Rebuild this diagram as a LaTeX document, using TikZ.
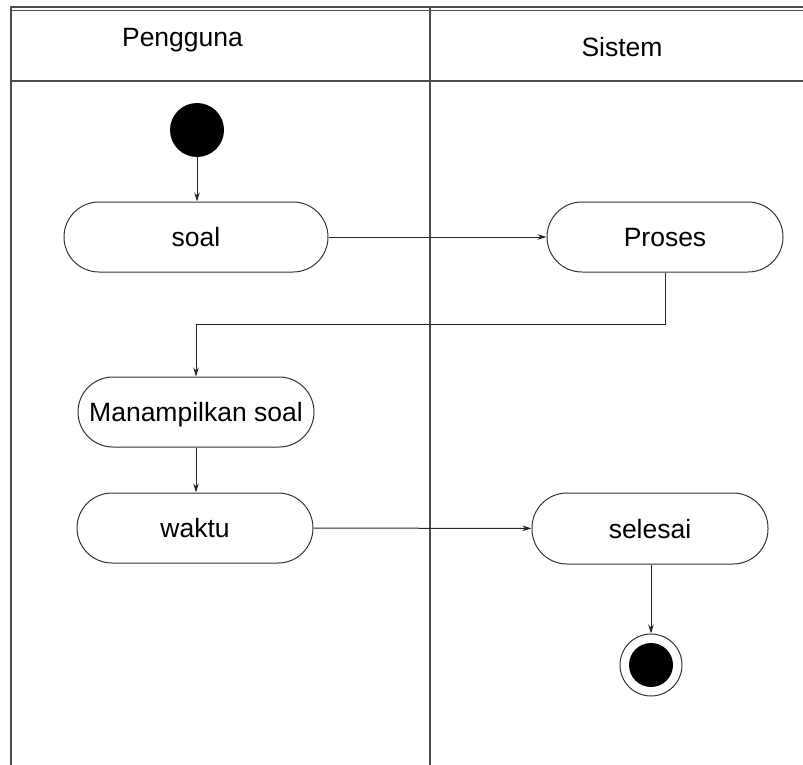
\documentclass[tikz,border=0pt]{standalone}
\usepackage{fontspec}
\setmainfont{Liberation Sans}
\usetikzlibrary{arrows.meta}
\begin{document}
\begin{tikzpicture}[x=1pt,y=-1pt,
  lane/.style={draw=black!70,line width=1.5pt},
  act/.style={draw=black!80,line width=1pt,rounded corners=35pt,minimum height=70pt,
    font=\fontsize{26.5}{30}\selectfont,text height=19pt,text depth=0pt,inner sep=0pt},
  flow/.style={draw=black!85,line width=1pt,-{Stealth[length=9pt,width=5.5pt]}},
  lbl/.style={font=\fontsize{26.5}{30}\selectfont,anchor=base,inner sep=0pt}]
\useasboundingbox (0,0) rectangle (803,765);
% swimlane frame
\draw[lane] (11,765) -- (11,7) -- (803,7);
\draw[lane] (11,10.5) -- (803,10.5);
\draw[lane] (11,81) -- (803,81);
\draw[lane] (430,7) -- (430,765);
\node[lbl] (pengguna) at (182.5,47) {Pengguna};
\node[lbl] (sistem) at (622,57) {Sistem};
% nodes
\node[circle,fill=black,minimum size=54pt,inner sep=0pt] (start) at (197,130) {};
\node[act,minimum width=264pt] (soal) at (196,237) {soal};
\node[act,minimum width=236pt] (proses) at (665,237) {Proses};
\node[act,minimum width=236pt] (tampil) at (196,412) {Manampilkan soal};
\node[act,minimum width=236pt] (waktu) at (195,528) {waktu};
\node[act,minimum width=236pt,minimum height=71pt] (selesai) at (650,528.5) {selesai};
\node[circle,draw=black!80,line width=1pt,minimum size=62pt,inner sep=0pt] (end) at (651,665) {};
\node[circle,fill=black,minimum size=44pt,inner sep=0pt] (endin) at (end.center) {};
% connectors
\draw[flow] (start) -- (start|-soal.north);
\draw[flow] (soal) -- (proses);
\coordinate (c1) at (665,324);
\coordinate (c2) at (196,324);
\draw[flow] (proses.south) -- (c1) -- (c2) -- (tampil.north);
\draw[flow] (tampil.south) -- (tampil.south|-waktu.north);
\draw[flow] (waktu) -- (selesai);
\draw[flow] (selesai.south -| end) -- (end.north);
\end{tikzpicture}
\end{document}
